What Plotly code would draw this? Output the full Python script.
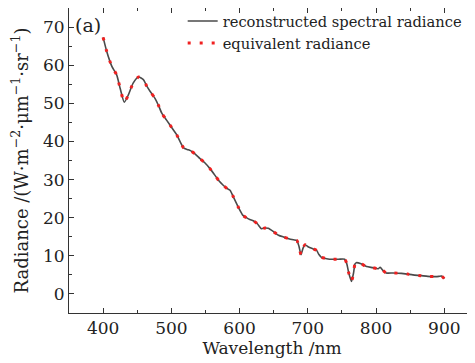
import plotly.graph_objects as go

wavelength = [400, 405, 410, 413, 420, 425, 431, 437, 444, 452, 459, 464, 469, 476, 481, 486,
              493, 503, 508, 513, 518, 523, 528, 535, 542, 549, 556, 564, 570, 576, 582, 586,
              591, 598, 605, 610, 615, 620, 626, 632, 637, 642, 650, 657, 665, 672, 679, 684,
              687, 690, 693, 696, 701, 708, 713, 716, 720, 726, 732, 745, 754, 757, 760, 764,
              767, 769, 771, 778, 786, 795, 803, 806, 810, 815, 825, 837, 846, 854, 866, 876,
              886, 892, 896, 900]
reconstructed = [67.3, 63.8, 61.0, 59.6, 57.4, 53.9, 50.3, 52.2, 55.3, 56.9, 56.2, 54.5, 53.1, 51.3, 49.5, 47.4,
                 45.6, 43.0, 41.7, 39.9, 38.3, 37.9, 37.6, 36.7, 35.5, 34.4, 33.0, 31.1, 29.6, 28.5, 27.6, 27.2,
                 25.4, 22.8, 20.6, 20.0, 19.5, 19.2, 18.4, 17.1, 17.3, 17.2, 16.3, 15.4, 14.9, 14.5, 14.2, 14.0,
                 12.5, 10.3, 12.0, 12.9, 12.3, 11.8, 11.4, 10.4, 9.6, 9.3, 9.1, 9.1, 9.1, 8.0, 5.5, 3.3,
                 5.5, 7.8, 8.2, 7.9, 7.2, 6.9, 6.6, 7.0, 6.2, 5.5, 5.5, 5.4, 5.2, 5.0, 4.8, 4.6,
                 4.55, 4.6, 4.7, 4.0]
equivalent = list(reconstructed)

x_ticks = [400, 500, 600, 700, 800, 900]
y_ticks = [0, 10, 20, 30, 40, 50, 60, 70]

FONT = "DejaVu Serif"

fig = go.Figure()
fig.add_trace(go.Scatter(
    x=wavelength, y=reconstructed, mode="lines", name="reconstructed spectral radiance",
    line=dict(color="#4a4a4a", width=1.6, shape="spline", smoothing=0.6)))
fig.add_trace(go.Scatter(
    x=wavelength, y=equivalent, mode="lines", name="equivalent radiance",
    line=dict(color="#f02020", width=3, dash="3px,9px", shape="spline", smoothing=0.6)))

axis_common = dict(
    showgrid=False, zeroline=False, showline=True, linecolor="#333333", linewidth=1,
    ticks="inside", ticklen=5, tickcolor="#333333", tickwidth=1, automargin=False,
    tickfont=dict(family=FONT, size=17, color="#222222"),
)

fig.update_xaxes(
    range=[350, 945], tickvals=x_ticks, mirror="ticks",
    minor=dict(ticks="inside", ticklen=3, dtick=50, tick0=0, tickcolor="#333333", showgrid=False),
    title=dict(text="Wavelength /nm", font=dict(family=FONT, size=17, color="#222222"), standoff=0),
    **axis_common)
fig.update_yaxes(
    range=[-5, 75], tickvals=y_ticks, mirror=False,
    minor=dict(ticks="inside", ticklen=3, dtick=5, tick0=0, tickcolor="#333333", showgrid=False),
    title=dict(text="Radiance /(W·m<sup>−2</sup>·μm<sup>−1</sup>·sr<sup>−1</sup>)",
               font=dict(family=FONT, size=18, color="#222222"), standoff=14),
    **axis_common)

fig.add_annotation(
    text="(a)", xref="paper", yref="paper", x=0, y=0.945, xanchor="left", yanchor="middle",
    xshift=4, showarrow=False, font=dict(family=FONT, size=19, color="#222222"))

# page body adds an 8px offset; figure is sized so the plot sits where the reference has it
fig.update_layout(
    template="none",
    width=467, height=355,
    margin=dict(l=61, r=0, t=0, b=50, autoexpand=False),
    paper_bgcolor="white", plot_bgcolor="white",
    showlegend=True,
    legend=dict(x=0.28, y=1.01, xanchor="left", yanchor="top", bgcolor="rgba(0,0,0,0)",
                font=dict(family=FONT, size=14.7, color="#222222"), tracegroupgap=0),
)

fig.write_html("out.html")
